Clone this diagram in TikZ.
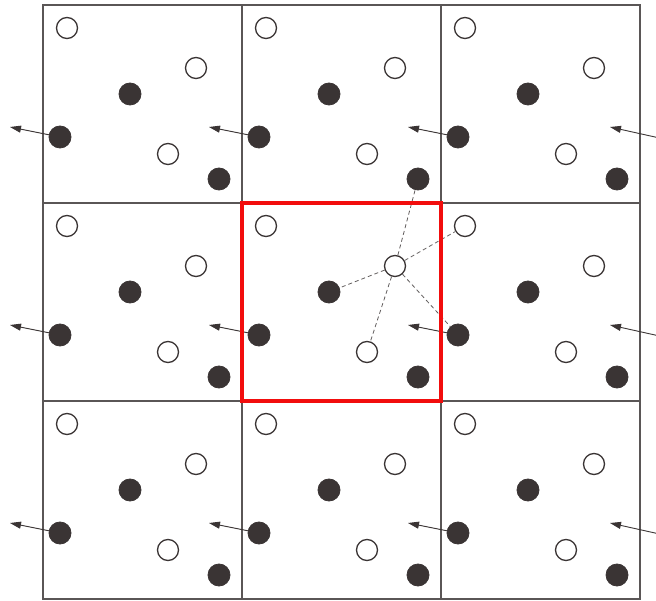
\documentclass[tikz,border=0pt]{standalone}
\usetikzlibrary{arrows.meta}
\definecolor{wall}{HTML}{5A5656}
\definecolor{ink}{HTML}{3A3434}
\definecolor{hot}{HTML}{F20D0D}

\begin{document}
\begin{tikzpicture}[x=1pt,y=-1pt,
  cell/.style={draw=wall,line width=1.4pt},
  hole/.style={circle,draw=ink,fill=white,line width=1.3pt,inner sep=0pt,minimum size=21pt},
  dot/.style={circle,draw=ink,fill=ink,line width=0.8pt,inner sep=0pt,minimum size=22pt},
  push/.style={-{Triangle[length=11pt,width=7pt]},draw=ink,line width=0.9pt,shorten <=-1pt},
  link/.style={draw=ink!80,line width=0.8pt,dash pattern=on 4pt off 3pt},
  >={Stealth[length=5pt]}]
\useasboundingbox (0,0) rectangle (656,601);
\clip (0,0) rectangle (656,601);
\fill[white] (0,0) rectangle (656,601);
% periodic images of the box
\foreach \c in {0,1,2}{
  \foreach \r in {0,1,2}{
    \pgfmathsetmacro{\x}{43+199*\c}
    \pgfmathsetmacro{\y}{5+198*\r}
    \draw[cell] (\x,\y) rectangle ++(199,198);
    \node[hole] (a-\c-\r) at (\x+24,\y+23) {};
    \node[hole] (b-\c-\r) at (\x+153,\y+63) {};
    \node[dot]  (c-\c-\r) at (\x+87,\y+89) {};
    \node[dot]  (d-\c-\r) at (\x+17,\y+132) {};
    \node[hole] (e-\c-\r) at (\x+125,\y+149) {};
    \node[dot]  (f-\c-\r) at (\x+176,\y+174) {};
    \coordinate (t-\c-\r) at (\x-33,\y+122);
    \draw[push] (d-\c-\r) -- (t-\c-\r);
  }
}
% images just past the right edge
\foreach \r in {0,1,2}{
  \pgfmathsetmacro{\y}{5+198*\r}
  \coordinate (d-3-\r) at (664,\y+134);
  \coordinate (t-3-\r) at (610,\y+122);
  \draw[push] (d-3-\r) -- (t-3-\r);
}
% neighbours of the marked particle
\foreach \n in {f-1-0,a-2-1,c-1-1,e-1-1,d-2-1}
  \draw[link] (b-1-1) -- (\n);
% the simulation box
\draw[hot,line width=4.5pt] (242,203) rectangle (441,401);
\end{tikzpicture}
\end{document}
